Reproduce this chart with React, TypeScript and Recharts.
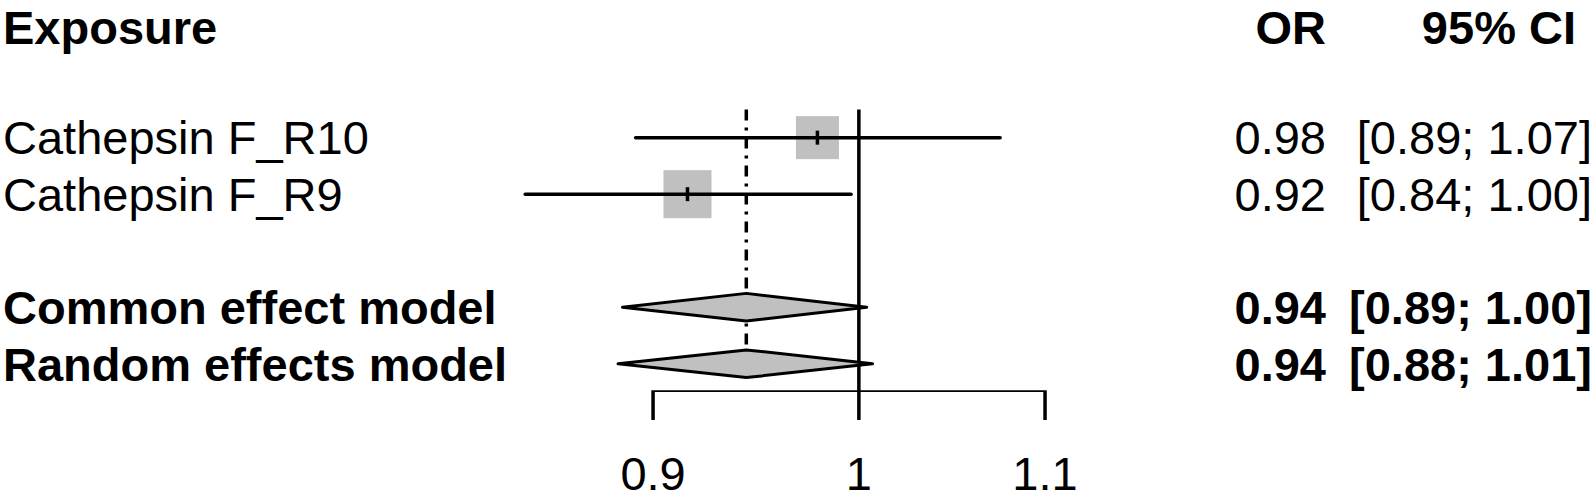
import { ComposedChart, Scatter, XAxis, YAxis } from "recharts";

// individual studies
const studyLabels = ["Cathepsin F_R10", "Cathepsin F_R9"];
const studyRows = [1, 2];
const studyOR = [0.979, 0.916];
const studyLower = [0.892, 0.843];
const studyUpper = [1.075, 0.996];
const studyWeight = [44.5, 55.5];

// pooled estimates
const modelLabels = ["Common effect model", "Random effects model"];
const modelRows = [4, 5];
const modelOR = [0.944, 0.944];
const modelLower = [0.886, 0.884];
const modelUpper = [1.004, 1.007];

const headerRow = -1;
const headers = ["Exposure", "OR", "95% CI"];
const xTicks = [0.9, 1, 1.1];

const FONT = "'Liberation Sans', Arial, Helvetica, sans-serif";
const FS = 47;
const GREY = "#c0c0c0";
const LW = 3.5;

type RowInfo = { label: string; or: string; ci: string; bold: boolean };

const rowInfo = new Map<number, RowInfo>();
rowInfo.set(headerRow, { label: headers[0], or: headers[1], ci: headers[2], bold: true });
studyLabels.forEach((s, i) =>
  rowInfo.set(studyRows[i], {
    label: s,
    or: studyOR[i].toFixed(2),
    ci: `[${studyLower[i].toFixed(2)}; ${studyUpper[i].toFixed(2)}]`,
    bold: false,
  })
);
modelLabels.forEach((s, i) =>
  rowInfo.set(modelRows[i], {
    label: s,
    or: modelOR[i].toFixed(2),
    ci: `[${modelLower[i].toFixed(2)}; ${modelUpper[i].toFixed(2)}]`,
    bold: true,
  })
);
const rowTicks = [headerRow, ...studyRows, ...modelRows];

const squares = studyLabels.map((_, i) => ({ x: studyOR[i], y: studyRows[i], w: studyWeight[i] }));

const Empty = () => <g />;

const SquareShape = (props: any) => {
  const { cx, cy, payload } = props;
  const side = 64.5 * Math.sqrt(payload.w / 100);
  return (
    <g>
      <rect x={cx - side / 2} y={cy - side / 2} width={side} height={side} fill={GREY} />
      <line x1={cx} x2={cx} y1={cy - 7} y2={cy + 7} stroke="#000" strokeWidth={LW} />
    </g>
  );
};

const DiamondLine = (p: any) => (
  <polygon
    points={p.points.map((pt: any) => `${pt.x},${pt.y}`).join(" ")}
    fill={GREY}
    stroke="#000"
    strokeWidth={3}
    strokeLinejoin="round"
  />
);

const RowTick = (props: any) => {
  const { y, payload } = props;
  const info = rowInfo.get(payload.value);
  if (!info) return <g />;
  const isHeader = payload.value === headerRow;
  const common = {
    y,
    // header nudged down a little so the glyph boxes stay inside the picture
    dy: FS * 0.358 + (isHeader ? 3 : 0),
    fontFamily: FONT,
    fontSize: FS,
    fontWeight: info.bold ? "bold" : "normal",
    fill: "#000",
  };
  return (
    <g>
      <text x={3} textAnchor="start" {...common}>
        {info.label}
      </text>
      <text x={1326} textAnchor="end" {...common}>
        {info.or}
      </text>
      <text x={isHeader ? 1576 : 1592} textAnchor="end" {...common}>
        {info.ci}
      </text>
    </g>
  );
};

const XTick = (props: any) => {
  const { x, y, payload } = props;
  return (
    <text x={x} y={y} dy="0.71em" textAnchor="middle" fontFamily={FONT} fontSize={FS} fill="#000">
      {String(payload.value)}
    </text>
  );
};

const solid = { stroke: "#000", strokeWidth: LW, strokeLinecap: "round" as const };
const dh = 0.245;

export default function App() {
  return (
    <div style={{ position: "absolute", left: 0, top: 0, background: "#fff" }}>
      <ComposedChart width={1595} height={500} margin={{ top: 2, right: 380, bottom: 0, left: 0 }}>
        <XAxis
          dataKey="x"
          type="number"
          scale="log"
          domain={[0.8, 1.2]}
          allowDataOverflow
          ticks={xTicks}
          interval={0}
          axisLine={false}
          tickLine={{ stroke: "#000", strokeWidth: LW }}
          tickSize={28}
          tickMargin={37}
          height={108}
          tick={XTick}
        />
        <YAxis
          dataKey="y"
          type="number"
          domain={[-1.4, 5.5]}
          reversed
          allowDataOverflow
          width={423}
          ticks={rowTicks}
          interval={0}
          axisLine={false}
          tickLine={false}
          tick={RowTick}
        />

        {/* pooled estimate (dash-dot) and null effect line */}
        <Scatter
          data={[{ x: modelOR[0], y: 0.5 }, { x: modelOR[0], y: modelRows[1] }]}
          fill="#000"
          shape={Empty}
          line={{ stroke: "#000", strokeWidth: LW, strokeDasharray: "11 7 3 7" }}
          isAnimationActive={false}
        />
        <Scatter
          data={[{ x: 1, y: 0.5 }, { x: 1, y: 5.5 }]}
          fill="#000"
          shape={Empty}
          line={{ stroke: "#000", strokeWidth: LW }}
          isAnimationActive={false}
        />

        {modelLabels.map((m, i) => (
          <Scatter
            key={m}
            data={[
              { x: modelLower[i], y: modelRows[i] },
              { x: modelOR[i], y: modelRows[i] - dh },
              { x: modelUpper[i], y: modelRows[i] },
              { x: modelOR[i], y: modelRows[i] + dh },
            ]}
            fill="#000"
            shape={Empty}
            line={DiamondLine}
            isAnimationActive={false}
          />
        ))}

        <Scatter data={squares} fill={GREY} shape={SquareShape} isAnimationActive={false} />

        {studyLabels.map((s, i) => (
          <Scatter
            key={s}
            data={[
              { x: studyLower[i], y: studyRows[i] },
              { x: studyUpper[i], y: studyRows[i] },
            ]}
            fill="#000"
            shape={Empty}
            line={solid}
            isAnimationActive={false}
          />
        ))}

        {/* x axis line between outer ticks */}
        <Scatter
          data={[{ x: xTicks[0], y: 5.5 }, { x: xTicks[xTicks.length - 1], y: 5.5 }]}
          fill="#000"
          shape={Empty}
          line={{ stroke: "#000", strokeWidth: LW, strokeLinecap: "square" }}
          isAnimationActive={false}
        />
      </ComposedChart>
    </div>
  );
}
